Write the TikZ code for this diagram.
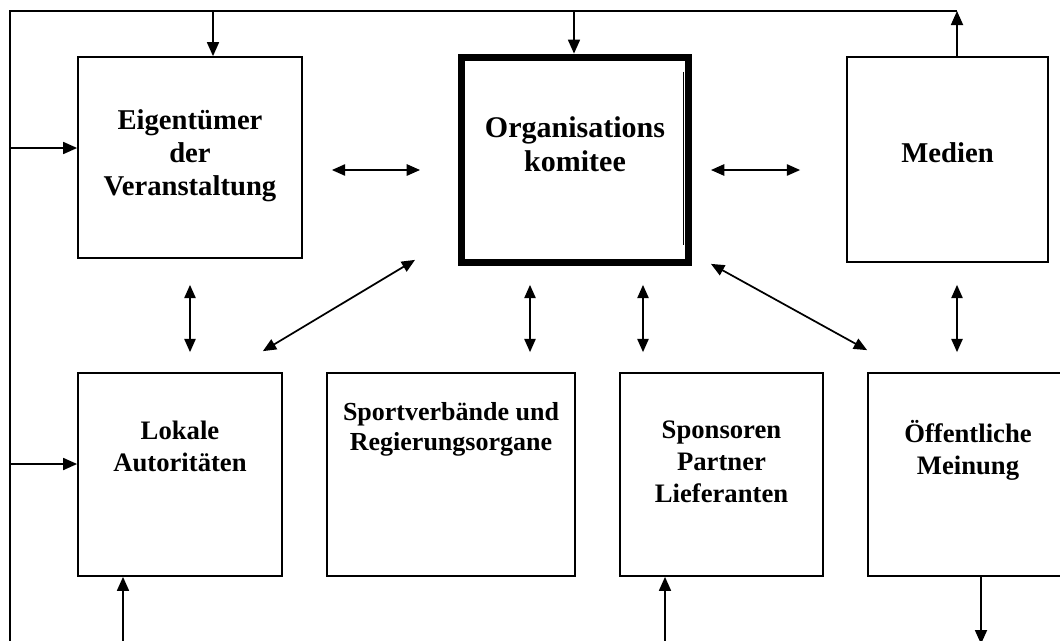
\documentclass[tikz,border=0pt]{standalone}
\usepackage{fontspec}
\setmainfont{Liberation Serif}
\usetikzlibrary{arrows.meta,calc}
\tikzset{
  stkbox/.style={draw,line width=1.3pt,inner sep=0pt},
  okbox/.style={draw,line width=5.2pt,inner sep=0pt},
  stktext/.style={font=\bfseries\fontsize{21.5}{25}\selectfont,align=center,inner sep=0pt,anchor=north},
  stklow/.style={stktext,font=\bfseries\fontsize{20}{24}\selectfont},
  frameline/.style={line width=1.3pt},
  flow/.style={-{Triangle[length=10.5pt,width=9pt]},line width=1.3pt},
  mutual/.style={{Triangle[length=10pt,width=8.5pt]}-{Triangle[length=10pt,width=8.5pt]},line width=1.3pt}
}

\begin{document}
\begin{tikzpicture}[x=0.75pt,y=-0.75pt]
\useasboundingbox (0,0) rectangle (1060,640);
% top row
\node[stkbox,minimum width=168pt,minimum height=150.75pt] (eig) at (190,157.5) {};
\node[okbox,minimum width=170.25pt,minimum height=154pt] (org) at (575,159.75) {};
\node[stkbox,minimum width=150.75pt,minimum height=153.75pt] (med) at (947.5,159.5) {};
\node[stktext] (eigt) at (190,109) {Eigentümer\\der\\Veranstaltung};
\node[stktext,font=\bfseries\fontsize{22.5}{26}\selectfont] (orgt) at (575,116) {Organisations\\komitee};
\node[stktext] (medt) at (947.5,142) {Medien};
\draw[line width=0.6pt] ($(org.north east)+(-9,18)$) -- ($(org.south east)+(-9,-21)$);
% bottom row
\node[stkbox,minimum width=153pt,minimum height=152.25pt] (lok) at (180,474.5) {};
\node[stkbox,minimum width=186pt,minimum height=152.25pt] (spo) at (451,474.5) {};
\node[stkbox,minimum width=152.25pt,minimum height=152.25pt] (spn) at (721.5,474.5) {};
\node[stkbox,minimum width=150pt,minimum height=152.25pt] (oef) at (968,474.5) {};
\node[stklow] (lokt) at (180,421) {Lokale\\Autoritäten};
\node[stklow,font=\bfseries\fontsize{19.5}{23}\selectfont] (spot) at (451,402) {Sportverbände und\\Regierungsorgane};
\node[stklow] (spnt) at (721.5,421) {Sponsoren\\Partner\\Lieferanten};
\node[stklow] (oeft) at (968,420) {Öffentliche\\Meinung};
% outer loop
\coordinate (ftl) at (10,11);
\coordinate (ftr) at (957,11);
\coordinate (fbl) at (10,644);
\draw[frameline] (fbl) -- (ftl) -- (ftr);
\draw[flow] (ftl -| 213,0) -- (eig.north -| 213,0);
\draw[flow] (ftl -| 574,0) -- (org.north -| 574,0);
\draw[flow] (med.north -| ftr) -- (ftr);
\draw[flow] (ftl |- 0,148) -- (eig.west |- 0,148);
\draw[flow] (ftl |- 0,464) -- (lok.west |- 0,464);
\draw[flow] (fbl -| 123,0) -- (lok.south -| 123,0);
\draw[flow] (fbl -| 665,0) -- (spn.south -| 665,0);
\draw[flow] (oef.south -| 981,0) -- (fbl -| 981,0);
% mutual links
\draw[mutual,shorten <=21.75pt,shorten >=28.5pt] (eig.east |- 0,170) -- (org.west |- 0,170);
\draw[mutual,shorten <=14.25pt,shorten >=34.5pt] (org.east |- 0,170) -- (med.west |- 0,170);
\foreach \a/\b/\x/\s in {eig/lok/190/19.5pt,org/spo/530/14.25pt,org/spn/643/14.25pt,med/oef/957/16.5pt}
  \draw[mutual,shorten <=\s,shorten >=15pt] (\a.south -| \x,0) -- (\b.north -| \x,0);
\draw[mutual] ($(lok.north east)+(-20,-21)$) -- ($(org.south west)+(-43,-6)$);
\draw[mutual] ($(org.south east)+(19,-2)$) -- ($(oef.north west)+(0,-22)$);
\end{tikzpicture}
\end{document}
